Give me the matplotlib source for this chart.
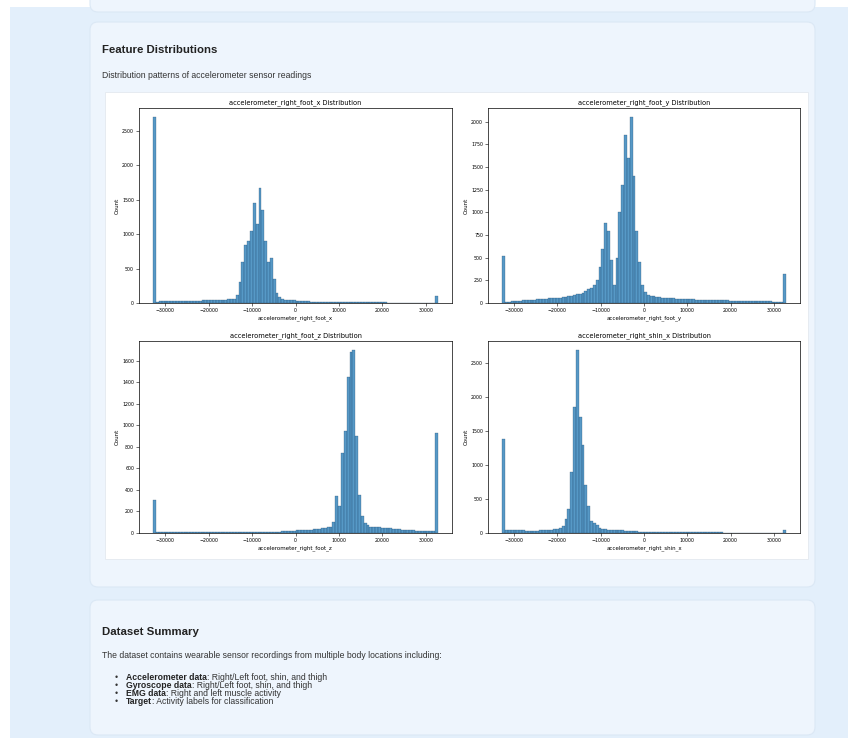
import numpy as np
import matplotlib
matplotlib.use("Agg")
import matplotlib.pyplot as plt
from matplotlib.patches import FancyBboxPatch, Rectangle
from matplotlib.ticker import MultipleLocator

# ---------------- data ----------------
features = ["accelerometer_right_foot_x", "accelerometer_right_foot_y",
            "accelerometer_right_foot_z", "accelerometer_right_shin_x"]

bin_lo, bin_hi, n_bins = -32768, 32767, 100

counts_foot_x = [
    2700, 20, 22, 22, 25, 25, 25, 28, 28, 30,
    30, 30, 32, 32, 35, 35, 35, 38, 38, 40,
    40, 42, 45, 45, 48, 50, 52, 55, 60, 120,
    300, 600, 850, 900, 1050, 1450, 1150, 1670, 1350, 900,
    600, 650, 350, 150, 80, 60, 50, 45, 40, 40,
    35, 30, 30, 25, 25, 20, 18, 16, 15, 15,
    14, 14, 13, 13, 12, 12, 12, 11, 11, 10,
    10, 10, 10, 9, 9, 9, 9, 8, 8, 8,
    8, 8, 7, 7, 7, 7, 7, 6, 6, 6,
    6, 6, 6, 6, 5, 5, 5, 5, 5, 100]

counts_foot_y = [
    520, 15, 15, 20, 20, 25, 25, 30, 30, 35,
    35, 35, 40, 40, 45, 45, 50, 50, 55, 60,
    60, 65, 70, 75, 80, 90, 95, 100, 110, 130,
    150, 170, 200, 250, 400, 600, 880, 800, 470, 200,
    500, 1000, 1300, 1850, 1600, 2050, 1400, 800, 450, 200,
    120, 90, 80, 75, 70, 65, 60, 55, 55, 50,
    50, 48, 46, 45, 44, 42, 40, 40, 38, 37,
    36, 35, 34, 33, 32, 31, 30, 30, 29, 28,
    27, 26, 25, 25, 24, 23, 22, 21, 20, 20,
    19, 18, 18, 17, 17, 16, 16, 15, 15, 320]

counts_foot_z = [
    310, 5, 5, 5, 5, 5, 5, 5, 5, 5,
    6, 6, 6, 6, 6, 6, 6, 6, 6, 6,
    7, 7, 7, 7, 7, 7, 7, 8, 8, 8,
    8, 8, 8, 9, 9, 9, 9, 9, 10, 10,
    10, 10, 10, 12, 12, 15, 15, 18, 20, 22,
    25, 25, 28, 30, 30, 32, 35, 38, 40, 45,
    50, 55, 60, 100, 340, 250, 745, 950, 1450, 1680,
    1700, 900, 350, 160, 90, 70, 60, 58, 55, 52,
    50, 48, 45, 42, 40, 38, 35, 32, 30, 28,
    26, 24, 22, 20, 18, 17, 16, 15, 15, 930]

counts_shin_x = [
    1390, 45, 45, 42, 40, 40, 38, 38, 36, 35,
    35, 35, 35, 38, 40, 42, 45, 50, 55, 60,
    70, 100, 200, 350, 900, 1850, 2690, 1700, 1300, 700,
    400, 180, 150, 120, 70, 60, 55, 50, 48, 45,
    42, 40, 38, 35, 32, 30, 28, 25, 22, 20,
    20, 18, 18, 17, 17, 16, 16, 15, 15, 14,
    14, 13, 13, 12, 12, 12, 11, 11, 10, 10,
    10, 9, 9, 9, 8, 8, 8, 8, 7, 7,
    7, 7, 6, 6, 6, 6, 6, 6, 5, 5,
    5, 5, 5, 5, 5, 5, 5, 5, 5, 50]

all_counts = [counts_foot_x, counts_foot_y, counts_foot_z, counts_shin_x]
y_steps = [500, 250, 200, 500]

page_title = "Feature Distributions"
page_subtitle = "Distribution patterns of accelerometer sensor readings"
summary_title = "Dataset Summary"
summary_intro = ("The dataset contains wearable sensor recordings from multiple "
                 "body locations including:")
summary_bold = ["Accelerometer data", "Gyroscope data", "EMG data", "Target"]
summary_rest = [": Right/Left foot, shin, and thigh",
                ": Right/Left foot, shin, and thigh",
                ": Right and left muscle activity",
                ": Activity labels for classification"]

# ---------------- figure ----------------
W, H = 848, 738
fig = plt.figure(figsize=(W / 100, H / 100), dpi=100)
fig.patch.set_facecolor("white")

bg = fig.add_axes([0, 0, 1, 1])
bg.set_xlim(0, W)
bg.set_ylim(H, 0)
bg.axis("off")
bg.set_zorder(-5)

PAGE_FONT = ["Liberation Sans", "DejaVu Sans"]
CARD = "#eef5fd"
CARD_EDGE = "#dbe8f5"

bg.add_patch(Rectangle((10, 7), W - 10, H - 7, facecolor="#e3effb",
                       edgecolor="none"))
bg.add_patch(FancyBboxPatch((90, -20), 725, 32,
                            boxstyle="round,pad=0,rounding_size=8",
                            facecolor=CARD, edgecolor=CARD_EDGE, lw=0.8))
bg.add_patch(FancyBboxPatch((90, 22), 725, 565,
                            boxstyle="round,pad=0,rounding_size=8",
                            facecolor=CARD, edgecolor=CARD_EDGE, lw=0.8))
bg.add_patch(FancyBboxPatch((90, 600), 725, 135,
                            boxstyle="round,pad=0,rounding_size=8",
                            facecolor=CARD, edgecolor=CARD_EDGE, lw=0.8))
bg.add_patch(Rectangle((105, 92), 703, 467, facecolor="white",
                       edgecolor="#e4e9ef", lw=0.6))

bg.text(102, 50, page_title, fontsize=8.2, fontweight="bold",
        family=PAGE_FONT, color="#222222", va="center", ha="left")
bg.text(102, 75, page_subtitle, fontsize=6.2, family=PAGE_FONT,
        color="#333333", va="center", ha="left")

bg.text(102, 632, summary_title, fontsize=8.2, fontweight="bold",
        family=PAGE_FONT, color="#222222", va="center", ha="left")
bg.text(102, 655, summary_intro, fontsize=6.2, family=PAGE_FONT,
        color="#333333", va="center", ha="left")

fig.canvas.draw()
renderer = fig.canvas.get_renderer()
bullet_y = [677, 686, 694, 702]
for yy, b, r in zip(bullet_y, summary_bold, summary_rest):
    bg.text(115, yy, "\u2022", fontsize=6.2, family=PAGE_FONT,
            color="#333333", va="center", ha="left")
    tb = bg.text(126, yy, b, fontsize=6.2, fontweight="bold",
                 family=PAGE_FONT, color="#222222", va="center", ha="left")
    ext = tb.get_window_extent(renderer=renderer)
    x_end = bg.transData.inverted().transform((ext.x1, ext.y0))[0]
    bg.text(x_end, yy, r, fontsize=6.2, family=PAGE_FONT,
            color="#333333", va="center", ha="left")

boxes = [(139, 108, 452, 303), (488, 108, 800, 303),
         (139, 341, 452, 533), (488, 341, 800, 533)]

edges = np.linspace(bin_lo, bin_hi, n_bins + 1)
centers = (edges[:-1] + edges[1:]) / 2

for feat, counts, step, (l, t, r, b) in zip(features, all_counts, y_steps, boxes):
    ax = fig.add_axes([l / W, 1 - b / H, (r - l) / W, (b - t) / H])
    ax.hist(centers, bins=edges, weights=counts,
            facecolor=(0.122, 0.467, 0.706, 0.75),
            edgecolor=(0.10, 0.25, 0.40, 0.6), linewidth=0.3)
    ax.set_title(f"{feat} Distribution", fontsize=4.8, pad=2.5)
    ax.set_xlabel(feat, fontsize=4, labelpad=1.5)
    ax.set_ylabel("Count", fontsize=4, labelpad=1.5)
    ax.tick_params(labelsize=3.4, length=2, width=0.4, pad=1.5)
    ax.yaxis.set_major_locator(MultipleLocator(step))
    ax.xaxis.set_major_locator(MultipleLocator(10000))
    for s in ax.spines.values():
        s.set_linewidth(0.5)

fig.savefig("out.png", dpi=100)
